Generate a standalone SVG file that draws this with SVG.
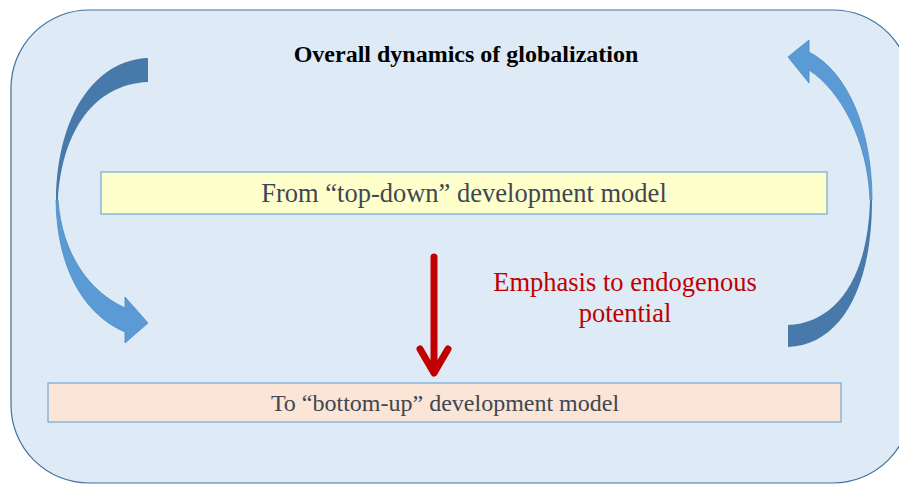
<svg xmlns="http://www.w3.org/2000/svg" width="899" height="485" viewBox="0 0 899 485">
<style>
.serif{font-family:"Liberation Serif","Times New Roman",serif}
.box{stroke:#5B9BD5;stroke-width:1}
.dark{fill:#477AAB}
.light{fill:#5B9BD5;stroke:#4F89C2;stroke-width:0.8}
.lbl{fill:#404652;text-anchor:middle}
.red{fill:#C00000;text-anchor:middle}
</style>
<rect x="11" y="10" width="900" height="473" rx="78" ry="78" fill="#DEEAF6" stroke="#41719C" stroke-width="1.2"/>
<text class="serif" x="466" y="62" font-size="24" font-weight="bold" text-anchor="middle" fill="#000">Overall dynamics of globalization</text>
<g id="connectors">
  <g id="left-curved-arrow">
    <path class="dark" d="M148,58 L148,82 C95,84 62,130 58,200 L56,200 C57,115 95,60 148,58 Z"/>
    <path class="light" d="M56,200 C57,270 85,315 125,332 L125,343 L148,323 L125,297 L125,308 C90,292 62,255 58,200 Z"/>
  </g>
  <g id="right-curved-arrow">
    <path class="dark" d="M788,347 L788,325 C835,323 868,280 870,200 L872,200 C872,290 840,345 788,347 Z"/>
    <path class="light" d="M872,200 C872,130 848,72 809,52 L809,40 L788,57 L809,83 L809,70 C840,90 868,140 870,200 Z"/>
  </g>
  <g id="red-arrow" fill="none" stroke="#C00000" stroke-width="7" stroke-linecap="round" stroke-linejoin="round">
    <line x1="434" y1="257" x2="434" y2="372"/>
    <polyline points="420,349 434,373 448,349"/>
  </g>
</g>
<g id="node-top-down">
  <rect class="box" x="101" y="172" width="726" height="42" fill="#FFFFCC"/>
  <text class="serif lbl" x="464" y="202" font-size="26.5">From “top-down” development model</text>
</g>
<g id="node-bottom-up">
  <rect class="box" x="48" y="383" width="793" height="39" fill="#FBE5D6"/>
  <text class="serif lbl" x="445" y="411" font-size="24">To “bottom-up” development model</text>
</g>
<g id="emphasis-label">
  <text class="serif red" x="625" y="291" font-size="26.5">Emphasis to endogenous</text>
  <text class="serif red" x="625" y="322" font-size="26.5">potential</text>
</g>
</svg>
